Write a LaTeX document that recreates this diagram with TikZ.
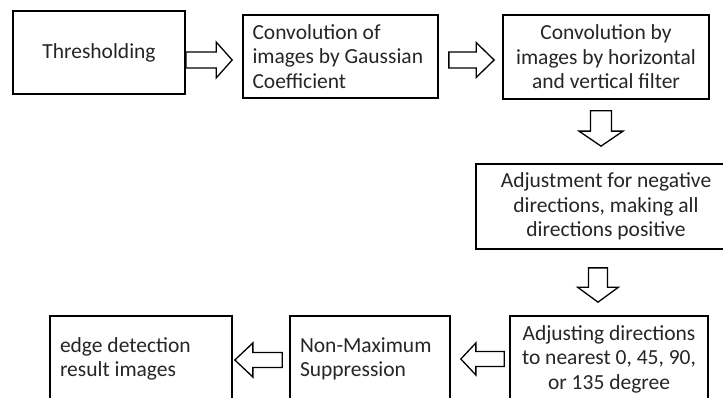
\documentclass[tikz,border=0pt]{standalone}
\usepackage{fontspec}
\setmainfont{Carlito}
\usetikzlibrary{calc}

\tikzset{
  stagebox/.style={draw=black, line width=1.7pt, fill=white, text=black!85,
    font=\fontsize{21.5}{24.5}\selectfont, inner sep=0pt},
  centered/.style={align=center},
  leftset/.style={align=flush left, text width=#1},
  % hollow block arrow: #1 half shaft width, #2 half head width, #3 head length
  blockarrow/.style n args={3}{draw=black, line width=1.3pt, fill=white, line join=miter,
    to path={
      let \p1=(\tikztostart), \p2=(\tikztotarget),
          \p3=($(\p2)!#3!(\p1)$) in
      ($(\p1)!#1!90:(\p2)$) -- ($(\p3)!#1!90:(\p2)$) -- ($(\p3)!#2!90:(\p2)$)
      -- (\p2)
      -- ($(\p3)!#2!-90:(\p2)$) -- ($(\p3)!#1!-90:(\p2)$) -- ($(\p1)!#1!-90:(\p2)$)
      -- cycle
    }}
}

\begin{document}
\begin{tikzpicture}[x=1pt, y=-1pt]
\useasboundingbox (0,0) rectangle (723,398);
\clip (0,0) rectangle (723,398);

% stages of the edge detector
\node[stagebox, centered, minimum width=172pt, minimum height=83pt] (thr) at (99,52.5) {Thresholding};
\node[stagebox, leftset=176pt, minimum width=195pt, minimum height=83pt] (gauss) at (340.5,56.5)
  {Convolution of\\images by Gaussian\\Coefficient};
\node[stagebox, centered, minimum width=206pt, minimum height=84pt] (filt) at (606,57)
  {Convolution by\\images by horizontal\\and vertical filter};
\node[stagebox, centered, minimum width=260pt, minimum height=85pt] (neg) at (606,206.5)
  {Adjustment for negative\\directions, making all\\directions positive};
\node[stagebox, centered, minimum width=198pt, minimum height=86pt] (near) at (609,359)
  {Adjusting directions\\to nearest 0, 45, 90,\\or 135 degree};
\node[stagebox, leftset=140pt, minimum width=160pt, minimum height=86pt] (nms) at (370,359)
  {Non-Maximum\\Suppression};
\node[stagebox, leftset=162pt, minimum width=182pt, minimum height=86pt] (res) at (141,359)
  {edge detection\\result images};

% arrow ends
\coordinate (a1s) at (thr.east |- 0,60);
\coordinate (a1e) at ([xshift=-10pt]gauss.west |- 0,60);
\coordinate (a2s) at ([xshift=10pt]gauss.east |- 0,60);
\coordinate (a2e) at ([xshift=-8pt]filt.west |- 0,60);
\coordinate (a3s) at ([yshift=-11pt]filt.south -| 601,0);
\coordinate (a3e) at ([yshift=17pt]neg.north -| 601,0);
\coordinate (a4s) at ([yshift=-18pt]neg.south -| 598,0);
\coordinate (a4e) at ([yshift=13pt]near.north -| 598,0);
\coordinate (a5s) at ([xshift=-5pt]near.west |- 0,359);
\coordinate (a5e) at ([xshift=10pt]nms.east |- 0,359);
\coordinate (a6s) at ([xshift=-7pt]nms.west |- 0,360);
\coordinate (a6e) at ([xshift=2pt]res.east |- 0,360);

% flow between the stages
\draw[blockarrow={8pt}{18pt}{16pt}] (a1s) to (a1e);
\draw[blockarrow={8pt}{17.5pt}{18pt}] (a2s) to (a2e);
\draw[blockarrow={10.5pt}{22pt}{15pt}] (a3s) to (a3e);
\draw[blockarrow={9.5pt}{20.5pt}{15pt}] (a4s) to (a4e);
\draw[blockarrow={7.5pt}{16pt}{15pt}] (a5s) to (a5e);
\draw[blockarrow={7.5pt}{17pt}{18pt}] (a6s) to (a6e);
\end{tikzpicture}
\end{document}
